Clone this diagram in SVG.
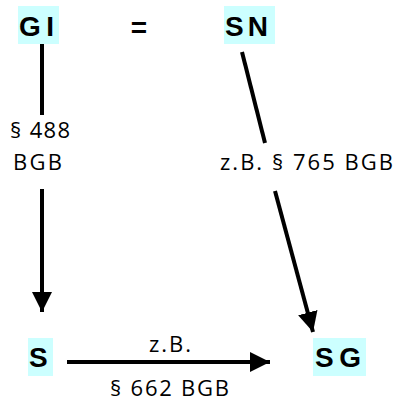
<svg xmlns="http://www.w3.org/2000/svg" width="397" height="401" viewBox="0 0 397 401">
<style>
.box{fill:#ccffff}
.nt{font-family:"Liberation Sans",Arial,sans-serif;font-weight:bold;font-size:28px;fill:#000}
.lb{font-family:"Open Sans","Noto Sans",sans-serif;font-size:22px;fill:#000}
.ln{stroke:#000;stroke-width:4;fill:none}
</style>
<defs>
<marker id="ah" markerUnits="userSpaceOnUse" markerWidth="20" markerHeight="20" refX="20" refY="10" orient="auto" viewBox="0 0 20 20">
<path d="M0,0 L20,10 L0,20 Z" fill="#000"/>
</marker>
</defs>
<rect width="397" height="401" fill="#fff"/>
<g id="GI"><rect class="box" x="18" y="6" width="41" height="38"/><text class="nt" x="19" y="36" textLength="35" lengthAdjust="spacing">GI</text></g>
<g id="eq"><text class="nt" x="139" y="37" text-anchor="middle">=</text></g>
<g id="SN"><rect class="box" x="224" y="6" width="51" height="38"/><text class="nt" x="225" y="36" textLength="43" lengthAdjust="spacing">SN</text></g>
<g id="S"><rect class="box" x="28" y="338" width="25" height="38"/><text class="nt" x="29" y="367">S</text></g>
<g id="SG"><rect class="box" x="313" y="338" width="53" height="38"/><text class="nt" x="315" y="367" textLength="46" lengthAdjust="spacing">SG</text></g>
<g id="connectors">
<line class="ln" x1="42" y1="44" x2="42" y2="115"/>
<line class="ln" x1="42" y1="189" x2="42" y2="312" marker-end="url(#ah)"/>
<line class="ln" x1="242" y1="52" x2="265" y2="143"/>
<line class="ln" x1="275" y1="191" x2="313" y2="332" marker-end="url(#ah)"/>
<line class="ln" x1="67" y1="362" x2="270" y2="362" marker-end="url(#ah)"/>
</g>
<g id="labels">
<text class="lb" x="10" y="138" textLength="60" lengthAdjust="spacing">§ 488</text>
<text class="lb" x="13" y="170" textLength="49" lengthAdjust="spacing">BGB</text>
<text class="lb" x="220" y="170" textLength="173" lengthAdjust="spacing">z.B. § 765 BGB</text>
<text class="lb" x="149" y="352" textLength="42" lengthAdjust="spacing">z.B.</text>
<text class="lb" x="110" y="396" textLength="119" lengthAdjust="spacing">§ 662 BGB</text>
</g>
</svg>
